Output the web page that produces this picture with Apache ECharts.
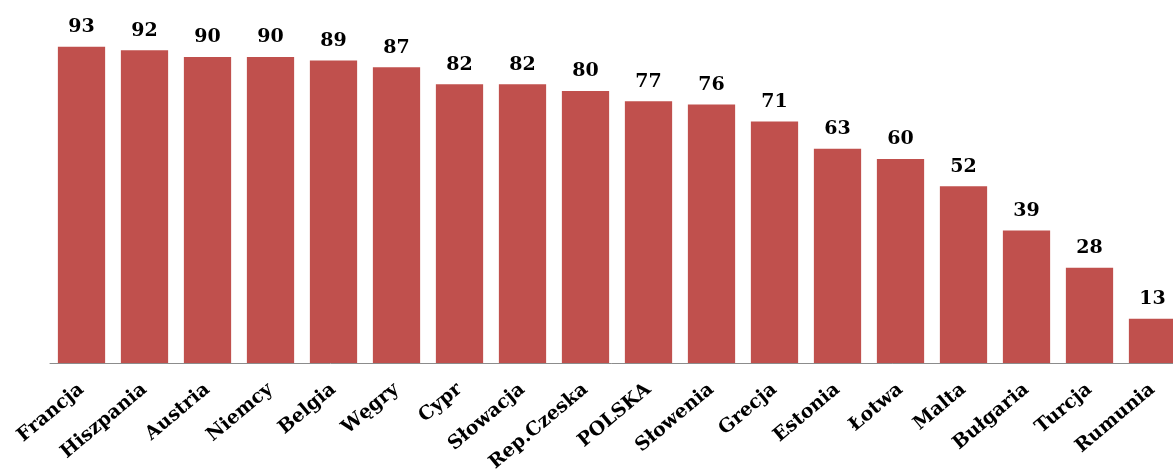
<!DOCTYPE html>
<html>
<head>
<meta charset="utf-8">
<script src="https://cdn.jsdelivr.net/npm/echarts@6/dist/echarts.min.js"></script>
<style>html,body{margin:0;padding:0;background:#fff;}#c{width:1173px;height:472px;}</style>
</head>
<body>
<div id="c"></div>
<script>
const categories = ['Francja','Hiszpania','Austria','Niemcy','Belgia','Węgry','Cypr','Słowacja','Rep.Czeska','POLSKA','Słowenia','Grecja','Estonia','Łotwa','Malta','Bułgaria','Turcja','Rumunia'];
const values = [93,92,90,90,89,87,82,82,80,77,76,71,63,60,52,39,28,13];

const chart = echarts.init(document.getElementById('c'));
chart.setOption({
  animation: false,
  grid: {left: 50, top: 23, right: -11, height: 340, containLabel: false, outerBoundsMode: 'none'},
  xAxis: {
    type: 'category',
    data: categories,
    axisLine: {lineStyle: {color: '#8c8c8c', width: 1}},
    axisTick: {length: 7, lineStyle: {color: '#8c8c8c'}},
    axisLabel: {
      interval: 0, rotate: 40, margin: 24,
      fontFamily: 'DejaVu Serif', fontWeight: 'bold', fontSize: 19, color: '#000'
    }
  },
  yAxis: {type: 'value', min: 0, max: 100, show: false, splitLine: {show: false}},
  series: [{
    type: 'bar',
    data: values,
    barCategoryGap: '25%',
    itemStyle: {color: '#C0504D'},
    label: {
      show: true, position: 'top', distance: 10,
      fontFamily: 'DejaVu Serif', fontWeight: 'bold', fontSize: 19, color: '#000'
    }
  }]
});
</script>
</body>
</html>
